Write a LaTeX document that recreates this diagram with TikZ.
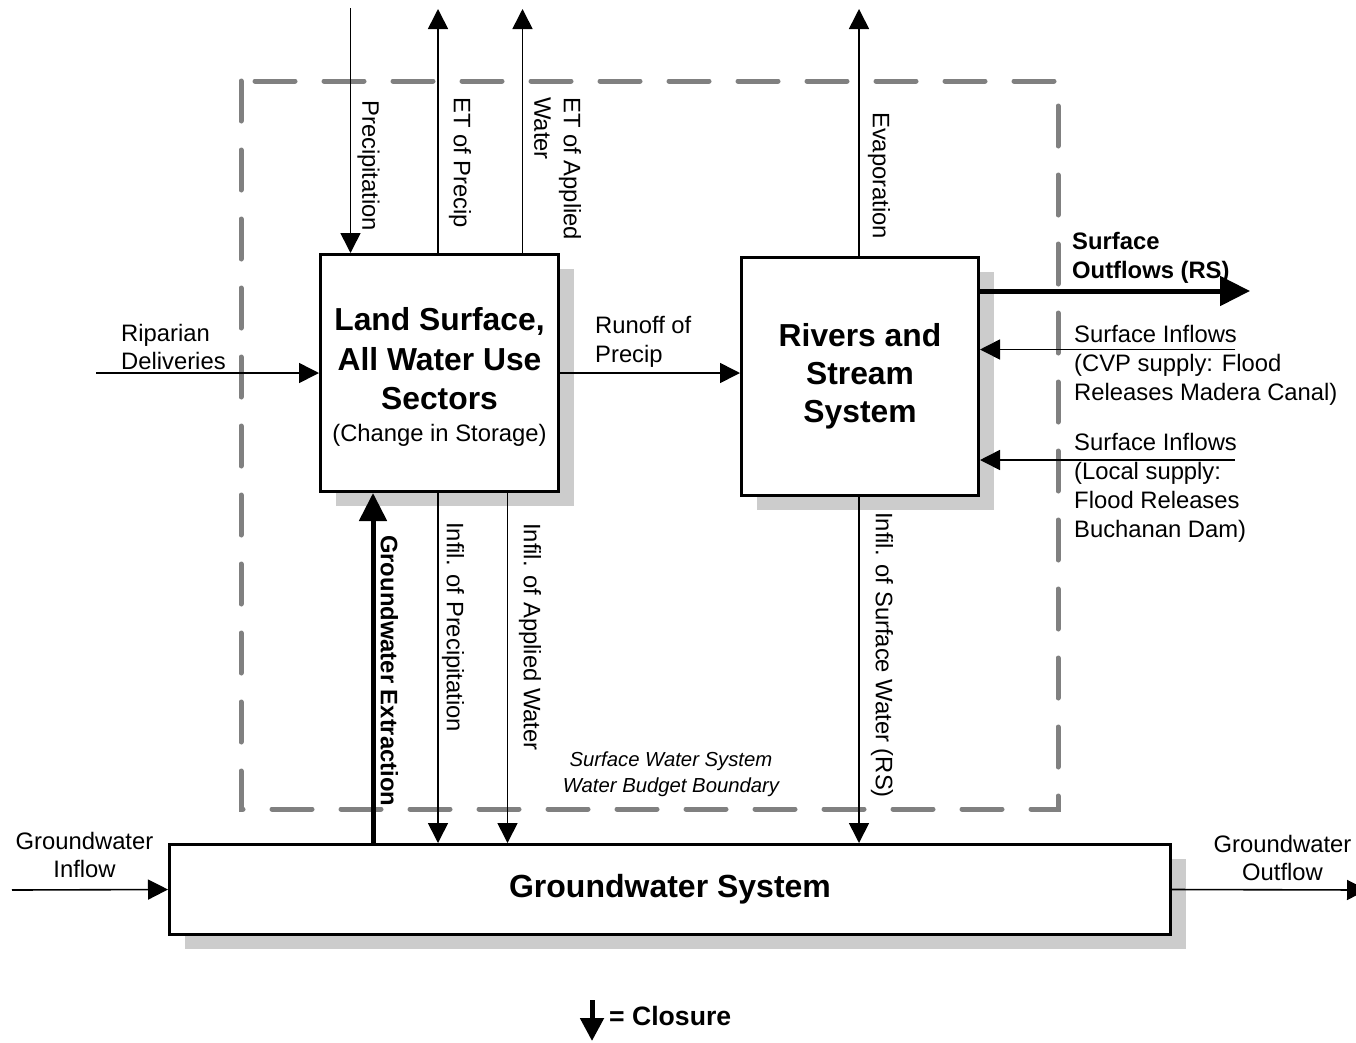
\documentclass[tikz,border=0pt]{standalone}
\usepackage{fontspec}
\setmainfont{Liberation Sans}
\usetikzlibrary{arrows.meta,shadows}
\definecolor{shadowgray}{HTML}{CCCCCC}
\definecolor{boundgray}{HTML}{808080}
\newcommand\fnorm{\fontsize{23.8}{28.5}\selectfont}
\newcommand\fnormb{\bfseries\fontsize{23.8}{28.5}\selectfont}
\newcommand\fitl{\itshape\fontsize{20.3}{26}\selectfont}
\newcommand\fbigland{\bfseries\fontsize{31.8}{39.5}\selectfont}
\newcommand\fbigriv{\bfseries\fontsize{31.8}{38}\selectfont}
\newcommand\fgw{\bfseries\fontsize{32}{38}\selectfont}
\newcommand\fclos{\bfseries\fontsize{26.6}{32}\selectfont}
\begin{document}
\begin{tikzpicture}[x=1pt,y=-1pt,
  sysbox/.style={draw, line width=3pt, fill=white, inner sep=0pt, align=center,
    drop shadow={shadow xshift=15pt, shadow yshift=-14pt, fill=shadowgray, opacity=1}},
  flow/.style={line width=1.6pt, -{Triangle[length=20pt,width=20pt]}},
  bigflow/.style={line width=5pt, -{Triangle[length=28pt,width=27pt]}},
  lbl/.style={inner sep=0pt, font=\fnorm},
  vlbl/.style={lbl, rotate=-90, anchor=west},
  boundary/.style={draw=boundgray, line width=5pt, line cap=round, dash pattern=on 40pt off 29pt}]

\useasboundingbox (0,0) rectangle (1356,1042);

% boundary
\draw[boundary] (241,81) rectangle (1058,809);
\node[inner sep=0pt, align=center, font=\fitl] (bndlbl) at (671,774) {Surface Water System\\Water Budget Boundary};

% system boxes
\node[sysbox, minimum width=238pt, minimum height=237pt, font=\fbigland] (land) at (439.5,373)
  {\rule{0pt}{31pt}Land Surface,\\All Water Use\\Sectors\\[-7.5pt]{\mdseries\fnorm (Change in Storage)}};
\node[sysbox, minimum width=237pt, minimum height=238pt, font=\fbigriv] (rivers) at (860,376.5)
  {Rivers and\\Stream\\System};
\node[sysbox, minimum width=1001pt, minimum height=90pt, font=\fgw] (gw) at (670,889.5)
  {Groundwater System};

% free ends
\coordinate (precsrc) at (350.5,8);
\coordinate (etpdst) at (438,9);
\coordinate (etadst) at (522.5,9);
\coordinate (evapdst) at (859,9);
\coordinate (ripsrc) at (96,373);
\coordinate (soutdst) at (1250,291);
\coordinate (sin1src) at (1235,349.5);
\coordinate (sin2src) at (1235,460);
\coordinate (gwinsrc) at (12,890);
\coordinate (gwoutdst) at (1367,890);
\coordinate (xgw) at (373,0);
\coordinate (xip) at (438,0);
\coordinate (xia) at (507.5,0);
\coordinate (xis) at (859,0);

% land surface connectors
\draw[flow] (precsrc) -- (precsrc |- land.north);
\draw[flow] (etpdst |- land.north) -- (etpdst);
\draw[flow] (etadst |- land.north) -- (etadst);
\draw[flow] (ripsrc) -- (land.west);
\draw[flow] (land.east) -- (land.east -| rivers.west);

% rivers connectors
\draw[flow] (evapdst |- rivers.north) -- (evapdst);
\draw[line width=5pt, -{Triangle[length=30pt,width=29pt]}] (soutdst -| rivers.east) -- (soutdst);
\draw[flow] (sin1src) -- (sin1src -| rivers.east);
\draw[flow] (sin2src) -- (sin2src -| rivers.east);

% vertical connectors to groundwater
\draw[bigflow] (xgw |- gw.north) -- (xgw |- land.south);
\draw[flow] (xip |- land.south) -- (xip |- gw.north);
\draw[flow] (xia |- land.south) -- (xia |- gw.north);
\draw[flow] (xis |- rivers.south) -- (xis |- gw.north);

% groundwater in/out
\draw[flow] (gwinsrc) -- (gw.west);
\draw[flow] (gw.east) -- (gwoutdst);

% vertical labels
\node[vlbl] (lprec) at (368.5,100) {Precipitation};
\node[vlbl] (letp) at (460,97) {ET of Precip};
\node[vlbl, align=left, font=\fontsize{23.8}{29.5}\selectfont] (leta) at (557.5,97) {ET of Applied\\Water};
\node[vlbl] (levap) at (879,112) {Evaporation};
\node[vlbl, font=\fnormb] (lgwx) at (389.5,535) {Groundwater Extraction};
\node[vlbl] (linfp) at (453,522) {Infil. of Precipitation};
\node[vlbl] (linfa) at (530,523) {Infil. of Applied Water};
\node[vlbl] (linfs) at (882,512) {Infil. of Surface Water (RS)};

% horizontal labels
\node[lbl, anchor=west, align=left] (lrip) at (121,347) {Riparian\\Deliveries};
\node[lbl, anchor=west, align=left] (lrun) at (595,342) {Runoff of\\Precip};
\node[lbl, anchor=west, align=left, font=\fnormb] (lsout) at (1072,258) {Surface\\Outflows (RS)};
\node[lbl, anchor=west, align=left, font=\fontsize{23.8}{29}\selectfont] (lsin1) at (1074,365) {Surface Inflows\\(CVP supply: Flood\\Releases Madera Canal)};
\node[lbl, anchor=west, align=left, font=\fontsize{23.8}{29}\selectfont] (lsin2) at (1074,488) {Surface Inflows\\(Local supply:\\Flood Releases\\Buchanan Dam)};
\node[lbl, align=center] (lgwin) at (84.5,855) {Groundwater\\Inflow};
\node[lbl, align=center] (lgwout) at (1282.5,858) {Groundwater\\Outflow};

% legend
\coordinate (cltop) at (592,1000);
\coordinate (clbot) at (592,1041);
\draw[line width=5pt, -{Triangle[length=23pt,width=23pt]}] (cltop) -- (clbot);
\node[inner sep=0pt, anchor=west, font=\fclos] (lclos) at (609,1016) {= Closure};
\end{tikzpicture}
\end{document}
